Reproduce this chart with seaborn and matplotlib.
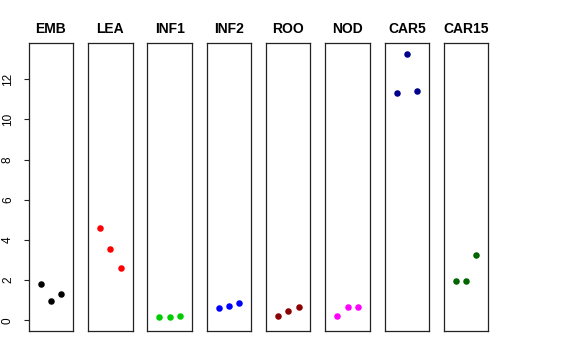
import pandas as pd
import seaborn as sns
import matplotlib.pyplot as plt

sns.set_style('white')
plt.rcParams['font.family'] = ['Liberation Sans', 'DejaVu Sans']
plt.rcParams['text.color'] = 'black'
plt.rcParams['ytick.color'] = 'black'

tissues = ['EMB', 'LEA', 'INF1', 'INF2', 'ROO', 'NOD', 'CAR5', 'CAR15']
colors = ['black', '#FF0000', '#00CD00', '#0000FF', '#8B0000', '#FF00FF', '#00008B', '#006400']
replicate = [1, 2, 3]

emb = [1.82, 0.94, 1.29]
lea = [4.59, 3.55, 2.60]
inf1 = [0.16, 0.15, 0.21]
inf2 = [0.60, 0.70, 0.85]
roo = [0.20, 0.45, 0.66]
nod = [0.20, 0.66, 0.66]
car5 = [11.32, 13.26, 11.39]
car15 = [1.97, 1.96, 3.23]
values = [emb, lea, inf1, inf2, roo, nod, car5, car15]

df = pd.DataFrame([
    {'tissue': t, 'rep': r, 'value': v}
    for t, vals in zip(tissues, values)
    for r, v in zip(replicate, vals)
])

fig, axes = plt.subplots(nrows=1, ncols=8, figsize=(5.76, 3.6), dpi=100, sharey=True)
fig.subplots_adjust(left=0.0498, right=0.848, top=0.8806, bottom=0.0806, wspace=0.333)

for ax, tissue, col in zip(axes, tissues, colors):
    sns.scatterplot(data=df[df['tissue'] == tissue], x='rep', y='value',
                    color=col, s=22, linewidth=0, ax=ax, legend=False)
    ax.set_xlim(-0.16, 4.16)
    ax.set_ylim(-0.53, 13.8)
    ax.set_xticks([])
    ax.set_xlabel('')
    ax.set_ylabel('')
    ax.set_title(tissue, fontsize=10, fontweight='bold', color='black', pad=7)
    for sp in ax.spines.values():
        sp.set_visible(True)
        sp.set_color('#222222')
        sp.set_linewidth(0.9)
    ax.tick_params(axis='y', left=False, labelleft=False)

ax0 = axes[0]
ax0.set_yticks([0, 2, 4, 6, 8, 10, 12])
ax0.tick_params(axis='y', left=True, labelleft=True, length=3.6, width=0.8,
                color='#222222', labelcolor='black', pad=7, labelsize=8.5)
for lbl in ax0.get_yticklabels():
    lbl.set_rotation(90)
    lbl.set_va('center')

fig.savefig('out.png', dpi=100)
